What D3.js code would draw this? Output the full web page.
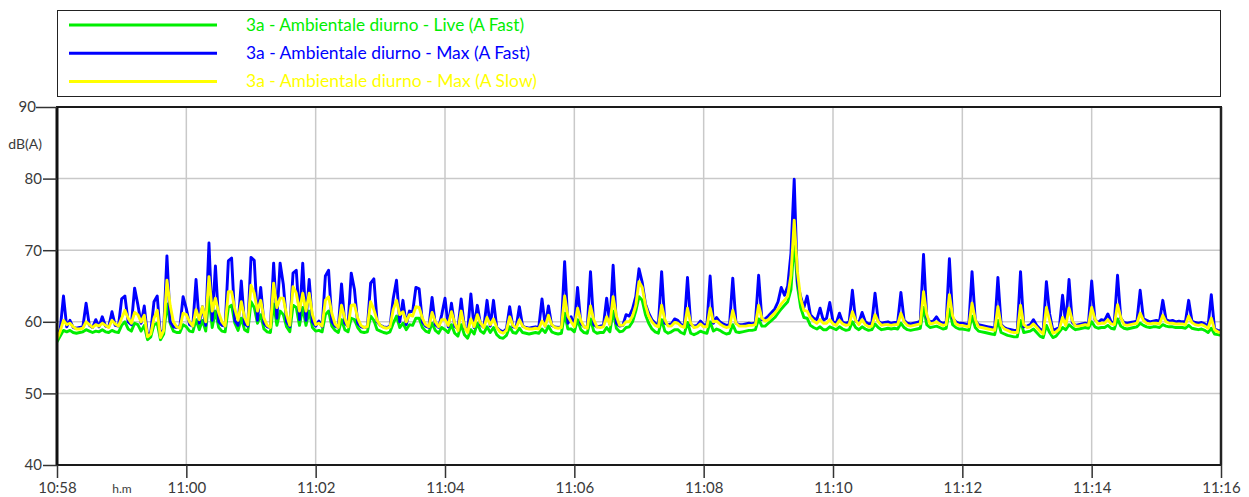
<!DOCTYPE html>
<html>
<head>
<meta charset="utf-8">
<script src="https://cdn.jsdelivr.net/npm/d3@7"></script>
<style>
  body { margin: 0; background: #fff; }
  svg { display: block; }
  text { font-family: Lato, "Open Sans", "DejaVu Sans", sans-serif; }
</style>
</head>
<body>
<svg id="chart" width="1249" height="497"></svg>
<script>
// Sound level log, one sample every 3 s from 10:58:00 to 11:16:00, dB(A)
const startClock = [10, 58, 0];
const stepSeconds = 3;

const seriesNames = [
  "3a - Ambientale diurno - Live (A Fast)",
  "3a - Ambientale diurno - Max (A Fast)",
  "3a - Ambientale diurno - Max (A Slow)"
];

const liveFast = [
  57.2, 58.0, 58.8, 58.6, 58.8, 58.5, 58.4, 58.5, 58.6, 58.9,
  58.7, 58.5, 58.7, 58.6, 58.9, 58.6, 58.5, 58.8, 58.6, 58.5,
  59.5, 60.0, 59.0, 58.7, 59.8, 59.6, 58.7, 59.5, 57.5, 57.9,
  59.6, 59.8, 57.5, 58.3, 62.5, 59.8, 58.7, 58.5, 58.5, 59.6,
  59.3, 58.7, 58.6, 60.3, 58.9, 60.2, 58.7, 63.5, 59.2, 61.5,
  59.2, 58.7, 58.6, 62.0, 62.3, 59.8, 58.8, 60.5, 58.9, 58.6,
  62.8, 62.0, 59.8, 61.0, 59.0, 58.6, 58.5, 62.5, 59.5, 61.5,
  61.0, 59.3, 58.6, 62.3, 62.0, 59.5, 62.0, 59.5, 61.5, 59.2,
  58.7, 58.8, 58.6, 61.0, 61.5, 59.4, 58.8, 58.5, 60.3, 58.9,
  58.6, 60.5, 60.3, 59.2, 58.6, 58.5, 58.6, 60.8, 60.2, 58.9,
  58.7, 58.5, 58.4, 58.6, 59.8, 60.8, 59.2, 59.8, 58.9, 59.6,
  59.5, 60.5, 60.5, 59.2, 58.7, 58.5, 59.8, 58.8, 58.4, 59.2,
  58.9, 58.5, 59.6, 58.4, 58.0, 59.6, 58.2, 57.7, 58.9, 58.3,
  59.8, 58.7, 58.4, 59.3, 58.5, 59.2, 58.2, 57.8, 57.7, 58.1,
  59.3, 58.5, 58.4, 59.1, 58.5, 58.4, 58.3, 58.4, 58.5, 58.4,
  59.0, 58.5, 59.4, 58.6, 58.4, 58.3, 58.4, 61.2, 59.0, 59.0,
  58.6, 60.3, 58.9, 58.5, 58.4, 60.4, 58.7, 58.4, 58.5, 58.5,
  59.2, 58.6, 61.5, 59.1, 58.6, 58.7, 59.2, 59.3, 60.0, 61.5,
  63.5, 63.0, 61.0, 59.8, 59.0, 58.6, 58.4, 60.3, 58.7, 58.4,
  58.6, 58.9, 58.9, 58.5, 58.3, 59.9, 58.4, 58.2, 58.4, 58.7,
  58.5, 58.4, 60.0, 58.7, 59.0, 58.8, 58.5, 58.3, 58.4, 59.6,
  58.6, 58.5, 58.6, 58.7, 58.8, 58.8, 58.9, 60.4, 59.4, 59.4,
  59.8, 60.2, 60.6, 61.2, 61.8, 62.3, 62.8, 64.5, 71.5, 65.0,
  62.0, 60.6, 60.5, 59.5, 59.2, 59.0, 59.3, 58.9, 58.9, 59.3,
  59.1, 58.9, 59.3, 59.0, 58.8, 58.9, 60.0, 59.2, 58.9, 59.3,
  59.0, 58.8, 58.9, 59.7, 59.2, 58.9, 59.0, 59.1, 59.0, 59.1,
  59.0, 59.8, 59.2, 58.9, 58.8, 58.9, 59.0, 59.1, 62.0, 59.6,
  59.2, 59.3, 59.4, 59.2, 59.0, 59.1, 61.8, 59.6, 59.2, 59.0,
  59.0, 58.9, 58.8, 60.8, 59.2, 58.7, 58.6, 58.5, 58.4, 58.3,
  58.2, 60.2, 58.5, 58.3, 58.1, 58.0, 57.9, 57.9, 60.2, 58.5,
  58.6, 58.7, 59.0, 58.5, 58.0, 57.8, 59.5, 58.5, 57.8, 58.0,
  58.6, 59.2, 58.9, 59.6, 59.2, 58.9, 59.0, 59.1, 59.2, 59.1,
  60.0, 59.3, 59.1, 59.2, 59.2, 59.5, 59.1, 59.0, 60.4, 59.4,
  59.1, 59.0, 59.1, 59.2, 59.3, 59.8, 59.5, 59.3, 59.2, 59.3,
  59.3, 59.2, 59.6, 59.4, 59.3, 59.3, 59.2, 59.2, 59.2, 59.1,
  59.5, 59.1, 59.0, 58.9, 59.0, 58.8, 58.5, 59.1, 58.3, 58.2,
  58.1
];

const maxFast = [
  57.8, 59.0, 63.6, 59.3, 60.2, 59.2, 59.1, 59.2, 59.3, 62.6,
  59.5, 59.2, 60.3, 59.3, 60.7, 59.4, 59.3, 61.4, 59.5, 59.4,
  63.2, 63.6, 60.0, 59.6, 64.7, 62.4, 59.8, 62.2, 58.0, 58.6,
  62.8, 63.6, 57.9, 59.0, 69.2, 60.0, 59.3, 59.2, 59.3, 63.5,
  61.8, 59.6, 59.4, 65.9, 59.8, 62.1, 59.5, 71.0, 60.2, 67.8,
  60.0, 59.5, 59.4, 68.5, 68.9, 60.2, 59.5, 65.7, 59.7, 59.4,
  69.0, 68.6, 60.2, 64.8, 59.8, 59.3, 59.2, 68.2, 60.5, 68.2,
  65.2, 60.0, 59.3, 66.8, 67.2, 60.3, 68.2, 60.2, 65.9, 60.0,
  59.4, 60.1, 59.3, 66.4, 67.2, 60.0, 59.4, 59.2, 65.3, 59.8,
  59.4, 66.8, 64.5, 59.8, 59.3, 59.2, 59.3, 65.4, 66.0, 60.0,
  59.5, 59.3, 59.2, 59.4, 63.3, 65.8, 60.0, 63.0, 59.6, 61.5,
  61.4, 64.8, 64.6, 60.0, 59.4, 59.2, 63.4, 59.6, 59.2, 61.0,
  63.3, 59.3, 62.6, 59.4, 59.0, 63.2, 59.2, 58.7, 63.9, 59.2,
  62.3, 59.6, 59.2, 63.0, 59.4, 63.0, 59.2, 58.8, 58.6, 59.0,
  62.1, 59.3, 59.2, 62.1, 59.4, 59.2, 59.1, 59.2, 59.3, 59.2,
  63.2, 59.4, 62.2, 59.5, 59.3, 59.2, 59.3, 68.4, 59.8, 60.7,
  59.4, 64.8, 59.8, 59.3, 59.2, 67.0, 59.6, 59.3, 59.4, 59.5,
  63.3, 59.6, 67.9, 59.8, 59.4, 59.5, 61.0, 60.8, 61.8, 63.5,
  67.4, 65.5, 62.5, 61.2, 60.3, 59.8, 59.6, 67.0, 59.8, 59.6,
  59.7, 60.4, 60.2, 59.6, 59.5, 66.2, 59.6, 59.4, 59.5, 60.1,
  59.6, 59.5, 66.4, 59.8, 60.6, 60.0, 59.7, 59.5, 59.6, 66.1,
  59.8, 59.6, 59.6, 59.7, 59.8, 59.7, 59.9, 66.5, 60.3, 60.4,
  60.8, 61.3, 61.8, 62.8, 64.8, 63.7, 65.0, 69.6, 79.9, 65.5,
  63.5, 62.0, 63.6, 61.0, 60.5, 60.3, 61.9, 60.2, 60.5, 62.7,
  60.0, 59.8, 61.2, 59.9, 59.8, 60.0, 64.4, 60.1, 59.9, 61.3,
  60.0, 59.7, 59.8, 64.0, 60.1, 59.8, 59.9, 60.0, 59.8, 59.9,
  59.9, 64.1, 60.2, 59.8, 59.7, 59.8, 59.9, 60.1, 69.4, 60.6,
  60.0, 60.1, 60.7, 60.0, 59.8, 59.9, 68.8, 60.5, 60.0, 59.8,
  59.8, 59.7, 59.6, 67.0, 60.2, 59.6, 59.5, 59.4, 59.3, 59.2,
  59.1, 66.2, 59.6, 59.2, 59.0, 58.9, 58.8, 58.8, 67.0, 59.3,
  59.4, 59.6, 60.3, 59.5, 59.0, 58.7, 65.6, 61.1, 58.8, 59.0,
  59.2, 63.7, 59.6, 65.9, 59.9, 59.5, 59.6, 59.7, 59.8, 59.7,
  65.7, 60.3, 59.9, 60.3, 60.2, 61.1, 60.0, 59.9, 66.5, 60.5,
  59.9, 59.8, 59.9, 60.0, 60.1, 64.4, 60.4, 60.2, 60.0, 60.1,
  60.2, 60.1, 63.0, 60.3, 60.1, 60.2, 60.0, 60.1, 60.0, 60.0,
  63.0, 60.1, 59.9, 59.8, 59.9, 59.7, 59.4, 63.8, 59.0, 58.8,
  58.7
];

const maxSlow = [
  57.6, 58.7, 60.2, 59.6, 59.8, 59.3, 59.0, 59.0, 59.1, 60.0,
  59.6, 59.2, 59.6, 59.4, 59.8, 59.5, 59.2, 60.2, 59.7, 59.4,
  60.5, 61.6, 60.5, 59.8, 61.3, 61.0, 60.0, 60.9, 57.9, 58.3,
  60.5, 61.6, 57.8, 58.8, 65.8, 62.3, 60.0, 59.3, 59.1, 61.2,
  61.0, 60.0, 59.4, 61.7, 60.3, 62.1, 60.0, 66.3, 61.5, 63.3,
  61.3, 60.0, 59.4, 64.2, 64.2, 61.8, 60.2, 62.8, 60.6, 59.6,
  65.1, 64.0, 61.5, 63.0, 60.5, 59.5, 59.2, 65.4, 62.0, 63.3,
  63.3, 61.0, 59.5, 64.9, 64.0, 61.5, 64.0, 61.5, 64.0, 61.0,
  59.6, 59.8, 59.4, 63.0, 63.5, 61.2, 59.7, 59.2, 62.3, 60.5,
  59.3, 62.3, 62.4, 60.5, 59.5, 59.2, 59.3, 62.8, 61.7, 60.2,
  59.5, 59.2, 59.1, 59.3, 61.7, 63.0, 61.0, 61.4, 60.0, 61.0,
  60.8, 62.1, 62.0, 60.5, 59.6, 59.3, 61.3, 60.0, 59.3, 60.3,
  60.3, 59.5, 61.4, 59.8, 58.8, 61.5, 59.3, 58.5, 60.4, 59.3,
  61.0, 59.8, 59.2, 60.6, 59.6, 60.4, 59.2, 58.6, 58.4, 58.8,
  60.7, 59.5, 59.1, 60.3, 59.4, 59.1, 59.0, 59.0, 59.1, 59.0,
  60.1, 59.4, 60.9, 59.6, 59.2, 59.1, 59.2, 63.6, 60.8, 60.0,
  59.3, 61.9, 60.2, 59.3, 59.1, 62.2, 60.3, 59.3, 59.2, 59.3,
  60.7, 59.6, 63.5, 60.8, 59.5, 59.5, 60.0, 60.0, 60.8, 62.3,
  65.6, 64.8, 62.3, 60.8, 60.0, 59.5, 59.3, 62.3, 60.3, 59.4,
  59.4, 59.9, 59.8, 59.4, 59.2, 61.9, 59.8, 59.2, 59.3, 59.7,
  59.3, 59.3, 61.9, 60.0, 60.1, 59.7, 59.4, 59.2, 59.3, 61.6,
  59.8, 59.4, 59.4, 59.4, 59.5, 59.5, 59.6, 62.3, 60.5, 60.1,
  60.3, 60.8, 61.2, 61.8, 62.5, 63.0, 63.6, 66.5, 74.2, 67.0,
  63.2, 61.6, 61.5, 60.6, 60.1, 59.8, 60.3, 59.8, 59.8, 60.3,
  59.7, 59.5, 60.2, 59.7, 59.5, 59.6, 61.4, 60.2, 59.6, 60.3,
  59.6, 59.3, 59.4, 61.0, 60.0, 59.5, 59.6, 59.6, 59.5, 59.6,
  59.6, 61.2, 60.0, 59.5, 59.4, 59.5, 59.6, 59.7, 64.2, 61.0,
  59.7, 59.8, 60.0, 59.7, 59.5, 59.6, 63.8, 60.8, 59.7, 59.5,
  59.5, 59.4, 59.3, 62.6, 60.3, 59.3, 59.2, 59.1, 59.0, 58.9,
  58.8, 62.1, 59.5, 59.0, 58.8, 58.6, 58.5, 58.5, 62.3, 59.6,
  59.2, 59.3, 59.7, 59.2, 58.7, 58.3, 62.0, 60.2, 58.4, 58.6,
  59.0, 60.6, 59.5, 61.9, 60.2, 59.4, 59.4, 59.5, 59.6, 59.5,
  62.0, 60.4, 59.7, 59.8, 59.8, 60.3, 59.7, 59.6, 62.4, 60.6,
  59.6, 59.5, 59.6, 59.7, 59.8, 61.2, 60.2, 59.8, 59.7, 59.8,
  59.8, 59.7, 60.9, 60.0, 59.8, 59.8, 59.7, 59.7, 59.7, 59.6,
  60.8, 59.9, 59.6, 59.5, 59.6, 59.4, 59.1, 60.5, 58.9, 58.6,
  58.5
];

const yTicks = [40, 50, 60, 70, 80, 90];
const xTickLabels = ["10:58", "11:00", "11:02", "11:04", "11:06", "11:08", "11:10", "11:12", "11:14", "11:16"];
const yUnit = "dB(A)";
const xUnit = "h.m";

// ---- layout ----
const plot = { left: 57, right: 1221, top: 107, bottom: 465 };
const colors = ["#00ee00", "#0000ff", "#ffff00"];
const legendBox = { left: 57, right: 1221, top: 10.5, bottom: 96.5 };
const legendTextWidths = [278, 284, 291];

const svg = d3.select("#chart");

const t0 = new Date(2000, 0, 1, startClock[0], startClock[1], startClock[2]);
const timeAt = i => new Date(t0.getTime() + i * stepSeconds * 1000);
const tEnd = timeAt(liveFast.length - 1);

const x = d3.scaleTime().domain([t0, tEnd]).range([plot.left, plot.right]);
const y = d3.scaleLinear().domain([40, 90]).range([plot.bottom, plot.top]);

// ---- grid ----
const xTickDates = xTickLabels.map(s => {
  const [h, m] = s.split(":").map(Number);
  return new Date(2000, 0, 1, h, m, 0);
});

const grid = svg.append("g").attr("stroke", "#c9c9c9").attr("stroke-width", 1.5);
grid.selectAll("line.h").data(yTicks.slice(1, -1)).join("line")
  .attr("x1", plot.left).attr("x2", plot.right)
  .attr("y1", d => y(d)).attr("y2", d => y(d));
grid.selectAll("line.v").data(xTickDates.slice(1, -1)).join("line")
  .attr("x1", d => x(d)).attr("x2", d => x(d))
  .attr("y1", plot.top).attr("y2", plot.bottom);

// ---- series ----
svg.append("clipPath").attr("id", "plotclip").append("rect")
  .attr("x", plot.left).attr("y", plot.top)
  .attr("width", plot.right - plot.left).attr("height", plot.bottom - plot.top);

const line = d3.line().x((d, i) => x(timeAt(i))).y(d => y(d));
const lines = svg.append("g").attr("clip-path", "url(#plotclip)");
[liveFast, maxFast, maxSlow].forEach((vals, k) => {
  lines.append("path")
    .attr("d", line(vals))
    .attr("fill", "none")
    .attr("stroke", colors[k])
    .attr("stroke-width", 2.9)
    .attr("stroke-linejoin", "round")
    .attr("stroke-linecap", "round");
});

// ---- frame ----
svg.append("rect")
  .attr("x", plot.left).attr("y", plot.top)
  .attr("width", plot.right - plot.left).attr("height", plot.bottom - plot.top)
  .attr("fill", "none").attr("stroke", "#1a1a1a").attr("stroke-width", 2);
svg.append("line")
  .attr("x1", plot.left).attr("x2", plot.left)
  .attr("y1", plot.top).attr("y2", plot.bottom)
  .attr("stroke", "#111").attr("stroke-width", 3);
svg.append("line")
  .attr("x1", plot.right).attr("x2", plot.right)
  .attr("y1", plot.top).attr("y2", plot.bottom)
  .attr("stroke", "#222").attr("stroke-width", 2.5);

// ---- axes ----
const yAxis = svg.append("g")
  .attr("transform", `translate(${plot.left},0)`)
  .call(d3.axisLeft(y).tickValues(yTicks).tickSize(14).tickPadding(1).tickFormat(d3.format("d")));
yAxis.select(".domain").remove();
yAxis.selectAll(".tick line").attr("stroke", "#333").attr("stroke-width", 1.5);
yAxis.selectAll(".tick text").attr("fill", "#3a3a3a").style("font-size", "15px");
yAxis.selectAll(".tick").filter(d => d === 90).each(function () {
  d3.select(this).select("line").attr("x2", -21);
  d3.select(this).select("text").attr("x", -21);
});

const xAxis = svg.append("g")
  .attr("transform", `translate(0,${plot.bottom})`)
  .call(d3.axisBottom(x).tickValues(xTickDates).tickSize(13).tickPadding(4)
    .tickFormat((d, i) => xTickLabels[i]));
xAxis.select(".domain").remove();
xAxis.selectAll(".tick line").attr("stroke", "#333").attr("stroke-width", 1.5);
xAxis.selectAll(".tick text").attr("fill", "#3a3a3a").style("font-size", "15px");

svg.append("text")
  .attr("x", 42).attr("y", 149)
  .attr("text-anchor", "end")
  .attr("fill", "#3a3a3a")
  .style("font-size", "14px")
  .text(yUnit);

svg.append("text")
  .attr("x", 122).attr("y", 493)
  .attr("text-anchor", "middle")
  .attr("fill", "#3a3a3a")
  .style("font-size", "12px")
  .text(xUnit);

// ---- legend ----
svg.append("rect")
  .attr("x", legendBox.left + 0.5).attr("y", legendBox.top)
  .attr("width", legendBox.right - legendBox.left - 1)
  .attr("height", legendBox.bottom - legendBox.top)
  .attr("fill", "#fff").attr("stroke", "#222").attr("stroke-width", 1);

const legend = svg.append("g");
seriesNames.forEach((name, k) => {
  const ly = 25 + k * 28.2;
  legend.append("line")
    .attr("x1", 69).attr("x2", 217)
    .attr("y1", ly).attr("y2", ly)
    .attr("stroke", colors[k]).attr("stroke-width", 3);
  legend.append("text")
    .attr("x", 246).attr("y", ly + 6)
    .attr("fill", colors[k])
    .attr("textLength", legendTextWidths[k])
    .attr("lengthAdjust", "spacingAndGlyphs")
    .style("font-size", "16.5px")
    .text(name);
});
</script>
</body>
</html>
